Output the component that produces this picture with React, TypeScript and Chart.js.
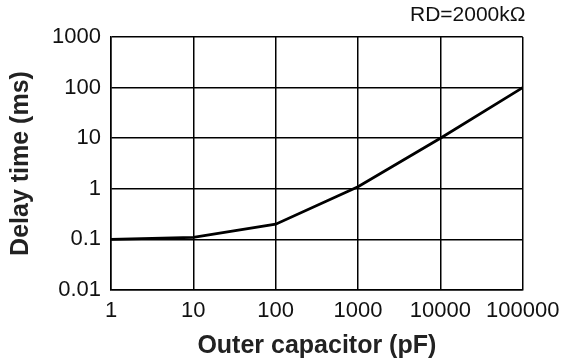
import React, { useEffect, useRef } from "react";
import { Chart, registerables } from "chart.js";

Chart.register(...registerables);

const capacitancePF = [1, 10, 100, 1000, 10000, 100000];
const delayMs = [0.1, 0.11, 0.2, 1.1, 10, 100];
const xTickValues = [1, 10, 100, 1000, 10000, 100000];
const yTickValues = [0.01, 0.1, 1, 10, 100, 1000];
const xTickLabels = ["1", "10", "100", "1000", "10000", "100000"];
const yTickLabels = ["0.01", "0.1", "1", "10", "100", "1000"];
const cornerLabel = "RD=2000kΩ";
const xTitle = "Outer capacitor (pF)";
const yTitle = "Delay time (ms)";

const FONT = "'Liberation Sans', Arial, Helvetica, sans-serif";

export default function App() {
  const ref = useRef<HTMLCanvasElement | null>(null);

  useEffect(() => {
    if (!ref.current) return;
    const points = capacitancePF.map((x, i) => ({ x, y: delayMs[i] }));
    const chart = new Chart(ref.current, {
      type: "line",
      data: {
        datasets: [
          {
            data: points,
            borderColor: "#000",
            borderWidth: 2.8,
            pointRadius: 0,
            fill: false,
            tension: 0,
          },
        ],
      },
      options: {
        animation: false,
        responsive: false,
        layout: { padding: { left: 0, top: 0, right: 41.5, bottom: 0 } },
        plugins: {
          legend: { display: false },
          tooltip: { enabled: false },
          title: {
            display: true,
            text: cornerLabel,
            align: "end",
            position: "top",
            color: "#111",
            font: { family: FONT, size: 21, weight: "normal", lineHeight: 1.2 },
            padding: { top: 2.8, bottom: 9 },
          },
        },
        scales: {
          x: {
            type: "logarithmic",
            min: 1,
            max: 100000,
            afterBuildTicks: (scale: any) => {
              scale.ticks = xTickValues.map((v) => ({ value: v }));
            },
            afterFit: (scale: any) => {
              scale.height = 73;
            },
            ticks: {
              autoSkip: false,
              maxRotation: 0,
              minRotation: 0,
              padding: 7.6,
              color: "#111",
              font: { family: FONT, size: 22, lineHeight: 1.2 },
              callback: (v: any) => {
                const i = xTickValues.indexOf(Number(v));
                return i >= 0 ? xTickLabels[i] : "";
              },
            },
            grid: { color: "#000", lineWidth: 1.5, drawTicks: false },
            border: { color: "#000", width: 1.5 },
            title: {
              display: true,
              text: xTitle,
              color: "#222",
              font: { family: FONT, size: 25, weight: "bold", lineHeight: 1.2 },
              padding: { top: 0, bottom: 2 },
            },
          },
          y: {
            type: "logarithmic",
            min: 0.01,
            max: 1000,
            afterBuildTicks: (scale: any) => {
              scale.ticks = yTickValues.map((v) => ({ value: v }));
            },
            afterFit: (scale: any) => {
              scale.width = 111;
            },
            ticks: {
              autoSkip: false,
              padding: 10,
              color: "#111",
              font: { family: FONT, size: 22, lineHeight: 1.2 },
              callback: (v: any) => {
                const i = yTickValues.findIndex((t) => Math.abs(t - Number(v)) < t * 1e-6);
                return i >= 0 ? yTickLabels[i] : "";
              },
            },
            grid: { color: "#000", lineWidth: 1.5, drawTicks: false },
            border: { color: "#000", width: 1.5 },
            title: {
              display: true,
              text: yTitle,
              color: "#222",
              font: { family: FONT, size: 25, weight: "bold", lineHeight: 1.2 },
              padding: { top: 6.5, bottom: 0 },
            },
          },
        },
      },
    });
    return () => chart.destroy();
  }, []);

  return (
    <div style={{ position: "fixed", left: 0, top: 0, width: 567, height: 363, background: "#fff" }}>
      <canvas ref={ref} width={567} height={363} style={{ width: 567, height: 363, display: "block" }} />
    </div>
  );
}
